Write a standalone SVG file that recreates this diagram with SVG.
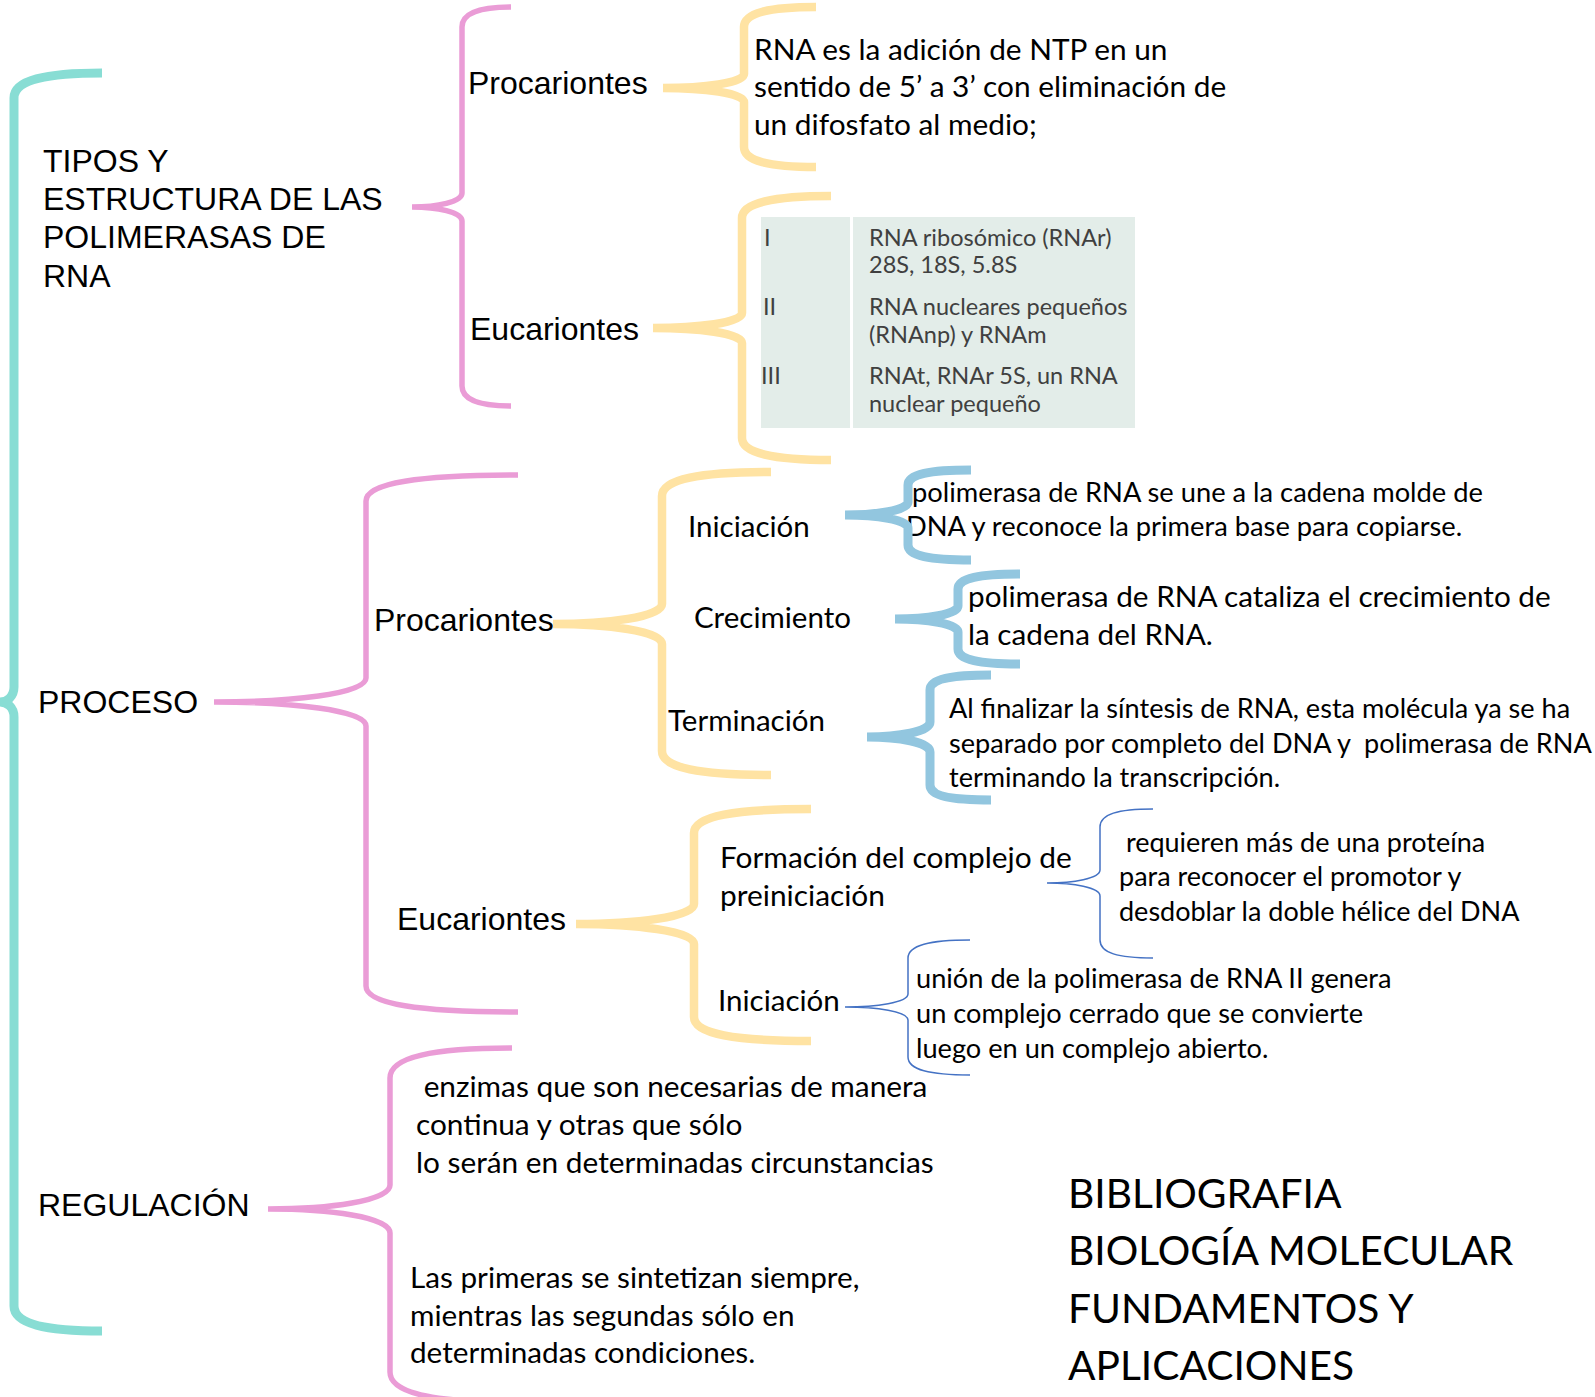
<svg xmlns="http://www.w3.org/2000/svg" width="1595" height="1397" viewBox="0 0 1595 1397">
<style>
.br{fill:none;stroke-linecap:butt;stroke-linejoin:miter}
.teal{stroke:#88DDD4;stroke-width:9}
.pink{stroke:#EA9CD6;stroke-width:5.5}
.yel{stroke:#FFE3A3;stroke-width:8.5}
.blu{stroke:#92C6DF;stroke-width:9}
.thin{stroke:#4472C4;stroke-width:1.5}
.a{font-family:"Liberation Sans",Arial,sans-serif;font-size:32px;fill:#000}
.c{font-family:Lato,"Open Sans",sans-serif;fill:#000}
.t{font-family:Lato,"Open Sans",sans-serif;font-size:23.5px;fill:#404040}
</style>
<rect width="1595" height="1397" fill="#fff"/>

<g id="n-tipos"><text class="a"><tspan x="43" y="172">TIPOS Y</tspan><tspan x="43" y="210">ESTRUCTURA DE LAS</tspan><tspan x="43" y="248">POLIMERASAS DE</tspan><tspan x="43" y="287">RNA</tspan></text></g>
<g id="n-proc1"><text class="a" x="468" y="94">Procariontes</text></g>
<g id="n-euc1"><text class="a" x="470" y="340">Eucariontes</text></g>
<g id="n-rnaes"><text class="c" font-size="29.8"><tspan x="754" y="60">RNA es la adición de NTP en un</tspan><tspan x="754" y="97">sentido de 5’ a 3’ con eliminación de</tspan><tspan x="754" y="135">un difosfato al medio;</tspan></text></g>
<g id="n-tabla">
<rect x="761" y="217" width="374" height="211" fill="#E3EDE9"/>
<rect x="850" y="217" width="3" height="211" fill="#fff"/>
<text class="t"><tspan x="764" y="246">I</tspan><tspan x="763" y="315">II</tspan><tspan x="761" y="384">III</tspan></text>
<text class="t"><tspan x="869" y="246">RNA ribosómico (RNAr)</tspan><tspan x="869" y="273">28S, 18S, 5.8S</tspan><tspan x="869" y="315">RNA nucleares pequeños</tspan><tspan x="869" y="343">(RNAnp) y RNAm</tspan><tspan x="869" y="384">RNAt, RNAr 5S, un RNA</tspan><tspan x="869" y="412">nuclear pequeño</tspan></text>
</g>
<g id="n-proceso"><text class="a" x="38" y="713">PROCESO</text></g>
<g id="n-proc2"><text class="a" x="374" y="631">Procariontes</text></g>
<g id="n-euc2"><text class="a" x="397" y="930">Eucariontes</text></g>
<g id="n-ini1"><text class="c" font-size="29.5" x="688" y="537">Iniciación</text></g>
<g id="n-crec"><text class="c" font-size="29.5" x="694" y="628">Crecimiento</text></g>
<g id="n-term"><text class="c" font-size="29.5" x="668" y="731">Terminación</text></g>
<g id="n-ini1t"><text class="c" font-size="27.3"><tspan x="912" y="502">polimerasa de RNA se une a la cadena molde de</tspan><tspan x="906" y="536">DNA y reconoce la primera base para copiarse.</tspan></text></g>
<g id="n-crect"><text class="c" font-size="29.7"><tspan x="968" y="607">polimerasa de RNA cataliza el crecimiento de</tspan><tspan x="968" y="645">la cadena del RNA.</tspan></text></g>
<g id="n-termt"><text class="c" font-size="27.1"><tspan x="949" y="718">Al finalizar la síntesis de RNA, esta molécula ya se ha</tspan><tspan x="949" y="753">separado por completo del DNA y&#160; polimerasa de RNA</tspan><tspan x="949" y="787">terminando la transcripción.</tspan></text></g>
<g id="n-form"><text class="c" font-size="29.85"><tspan x="720" y="868">Formación del complejo de</tspan><tspan x="720" y="906">preiniciación</tspan></text></g>
<g id="n-formt"><text class="c" font-size="27"><tspan x="1119" y="852">&#160;requieren más de una proteína</tspan><tspan x="1119" y="886">para reconocer el promotor y</tspan><tspan x="1119" y="921">desdoblar la doble hélice del DNA</tspan></text></g>
<g id="n-ini2"><text class="c" font-size="29.5" x="718" y="1011">Iniciación</text></g>
<g id="n-ini2t"><text class="c" font-size="27.2"><tspan x="916" y="988">unión de la polimerasa de RNA II genera</tspan><tspan x="916" y="1023">un complejo cerrado que se convierte</tspan><tspan x="916" y="1058">luego en un complejo abierto.</tspan></text></g>
<g id="n-reg"><text class="a" x="38" y="1216">REGULACIÓN</text></g>
<g id="n-reg1"><text class="c" font-size="29.8"><tspan x="416" y="1097">&#160;enzimas que son necesarias de manera</tspan><tspan x="416" y="1135">continua y otras que sólo</tspan><tspan x="416" y="1173">lo serán en determinadas circunstancias</tspan></text></g>
<g id="n-reg2"><text class="c" font-size="29.7"><tspan x="410" y="1288">Las primeras se sintetizan siempre,</tspan><tspan x="410" y="1326">mientras las segundas sólo en</tspan><tspan x="410" y="1363">determinadas condiciones.</tspan></text></g>
<g id="n-biblio"><text class="c" font-size="40.7"><tspan x="1068" y="1208">BIBLIOGRAFIA</tspan><tspan x="1068" y="1265">BIOLOGÍA MOLECULAR</tspan><tspan x="1068" y="1323">FUNDAMENTOS Y</tspan><tspan x="1068" y="1380">APLICACIONES</tspan></text></g>

<g id="connectors" class="br">
<path class="teal" d="M102,73 C44.8,73 14,80.5 14,98 L14,687 C14,696.75 7,702 0,702 C7,702 14,707.25 14,717 L14,1306 C14,1323.5 44.8,1331 102,1331"/>
<path class="pink" d="M511,7 C479,7 462,13 462,27 L462,193 C462,202 437,207 412,207 C437,207 462,212 462,221 L462,386 C462,400 479,406 511,406"/>
<path class="yel" d="M816,7 C769,7 744,13 744,27 L744,74 C744,83 703,88 663,88 C703,88 744,93 744,102 L744,147 C744,161 769,167 816,167"/>
<path class="yel" d="M831,196 C773,196 742,203 742,218 L742,313 C742,323 697,328 653,328 C697,328 742,333 742,343 L742,438 C742,453 773,460 831,460"/>
<path class="pink" d="M518,475 C419,475 366,483 366,501 L366,678 C366,694 290,702 214,702 C290,702 366,710 366,726 L366,986 C366,1004 419,1012 518,1012"/>
<path class="yel" d="M771,472 C700,472 662,479 662,496 L662,604 C662,617 607,624 553,624 C607,624 662,631 662,644 L662,751 C662,768 700,775 771,775"/>
<path class="yel" d="M811,809 C735,809 694,816 694,833 L694,904 C694,917 635,924 576,924 C635,924 694,931 694,944 L694,1017 C694,1034 735,1041 811,1041"/>
<path class="pink" d="M512,1048 C433,1048 390,1057 390,1078 L390,1185 C390,1201 329,1209 268,1209 C329,1209 390,1217 390,1233 L390,1372 C390,1393 433,1402 512,1402"/>
<path class="blu" d="M971,470 C930,470 908,474 908,485 L908,502 C908,510.5 876,515 845,515 C876,515 908,519.5 908,528 L908,545 C908,556 930,560 971,560"/>
<path class="blu" d="M1020,574 C980,574 958,578 958,589 L958,606 C958,614.5 926,619 895,619 C926,619 958,623.5 958,632 L958,649 C958,660 980,664 1020,664"/>
<path class="blu" d="M991,675 C951,675 930,679 930,690 L930,722 C930,732 898,737 867,737 C898,737 930,742 930,752 L930,785 C930,796 951,800 991,800"/>
<path class="thin" d="M1153,809 C1118,809 1100,814 1100,827 L1100,870 C1100,878.5 1073,883 1047,883 C1073,883 1100,887.5 1100,896 L1100,940 C1100,953 1118,958 1153,958"/>
<path class="thin" d="M970,940 C930,940 908,945 908,958 L908,994 C908,1002.5 876,1007 845,1007 C876,1007 908,1011.5 908,1020 L908,1057 C908,1070 930,1075 970,1075"/>
</g>
</svg>
